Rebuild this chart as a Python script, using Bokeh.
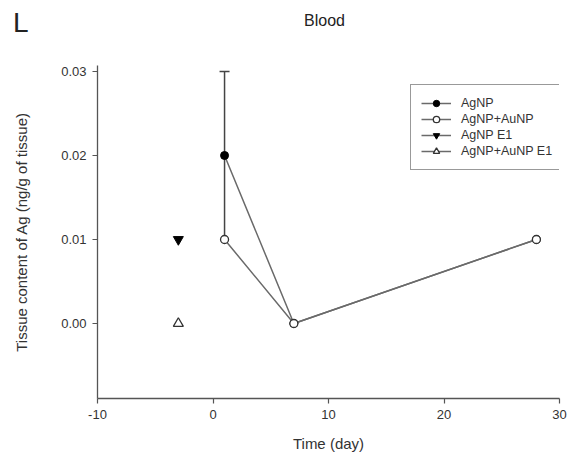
from bokeh.plotting import figure
from bokeh.models import (ColumnDataSource, Whisker, TeeHead, Legend, LegendItem,
                          FixedTicker, NumeralTickFormatter, PrintfTickFormatter, Range1d, Div)
from bokeh.layouts import column
from bokeh.embed import file_html
from bokeh.resources import INLINE

# ---- data ----
agnp_day = [1, 7, 28]
agnp_val = [0.02, 0.0, 0.01]
agnp_err_day = [1]
agnp_err_lo = [0.01]
agnp_err_hi = [0.03]

agau_day = [1, 7, 28]
agau_val = [0.01, 0.0, 0.01]

agnp_e1_day = [-3]
agnp_e1_val = [0.01]

agau_e1_day = [-3]
agau_e1_val = [0.0]

x_ticks = [-10, 0, 10, 20, 30]
y_ticks = [0.0, 0.01, 0.02, 0.03]

panel_letter = "L"
title_text = "Blood"

FONT = "Liberation Sans"
TXT = "#333333"
AX = "#555555"
LN = "#6a6a6a"

header = Div(
    text=(f'<div style="position:relative;width:572px;height:40px;'
          f'font-family:\'{FONT}\';color:#222222;line-height:1;">'
          f'<span style="position:absolute;left:13px;top:9px;font-size:28px;">{panel_letter}</span>'
          f'<span style="position:absolute;left:304px;top:13px;font-size:16px;">{title_text}</span>'
          f'</div>'),
    width=572, height=40, margin=0)

p = figure(width=572, height=416, output_backend="svg", toolbar_location=None,
           x_range=Range1d(-10, 30), y_range=Range1d(-0.00893, 0.03071),
           min_border_left=97, min_border_right=13, min_border_top=25, min_border_bottom=58,
           margin=0)
p.outline_line_color = None
p.xgrid.visible = False
p.ygrid.visible = False
p.background_fill_color = "white"

for ax in (p.xaxis[0], p.yaxis[0]):
    ax.axis_line_color = AX
    ax.axis_line_width = 1.3
    ax.major_tick_line_color = AX
    ax.major_tick_line_width = 1.2
    ax.major_tick_in = 0
    ax.major_tick_out = 5
    ax.minor_tick_line_color = None
    ax.major_label_text_font = FONT
    ax.major_label_text_font_size = "13px"
    ax.major_label_text_color = TXT
    ax.major_label_standoff = 6
    ax.axis_label_text_font = FONT
    ax.axis_label_text_font_size = "15px"
    ax.axis_label_text_font_style = "normal"
    ax.axis_label_text_color = TXT

p.xaxis.ticker = FixedTicker(ticks=x_ticks)
p.yaxis.ticker = FixedTicker(ticks=y_ticks)
p.xaxis.formatter = PrintfTickFormatter(format="%d")
p.yaxis.formatter = NumeralTickFormatter(format="0.00")
p.xaxis.axis_label = "Time (day)"
p.yaxis.axis_label = "Tissue content of Ag (ng/g of tissue)"
p.xaxis.axis_label_standoff = 13
p.yaxis.axis_label_standoff = 28

# error bar
err_src = ColumnDataSource(dict(base=agnp_err_day, lower=agnp_err_lo, upper=agnp_err_hi))
wh = Whisker(source=err_src, base="base", lower="lower", upper="upper",
             line_color="#444444", line_width=1.5, level="underlay",
             upper_head=TeeHead(size=10, line_color="#444444", line_width=1.5),
             lower_head=None)
p.add_layout(wh)

# series
l1 = p.line(agnp_day, agnp_val, line_color=LN, line_width=1.5)
s1 = p.scatter(agnp_day, agnp_val, marker="circle", size=8, fill_color="black",
               line_color="black")
l2 = p.line(agau_day, agau_val, line_color=LN, line_width=1.5)
s2 = p.scatter(agau_day, agau_val, marker="circle", size=8, fill_color="white",
               line_color="#333333", line_width=1.3)
l3 = p.line(agnp_e1_day, agnp_e1_val, line_color=LN, line_width=1.5)
s3 = p.scatter(agnp_e1_day, agnp_e1_val, marker="inverted_triangle", size=10,
               fill_color="black", line_color="black")
l4 = p.line(agau_e1_day, agau_e1_val, line_color=LN, line_width=1.5)
s4 = p.scatter(agau_e1_day, agau_e1_val, marker="triangle", size=10,
               fill_color="white", line_color="#333333", line_width=1.3)

legend = Legend(items=[
    LegendItem(label="AgNP", renderers=[l1, s1]),
    LegendItem(label="AgNP+AuNP", renderers=[l2, s2]),
    LegendItem(label="AgNP E1", renderers=[l3, s3]),
    LegendItem(label="AgNP+AuNP E1", renderers=[l4, s4]),
], location=(313, 228))
legend.glyph_width = 30
legend.glyph_height = 16
legend.label_height = 16
legend.spacing = 0
legend.padding = 10
legend.margin = 0
legend.label_standoff = 10
legend.label_text_font = FONT
legend.label_text_font_size = "12.5px"
legend.label_text_color = TXT
legend.border_line_color = "#333333"
legend.border_line_width = 1.2
legend.background_fill_alpha = 1.0
p.add_layout(legend)

layout = column(header, p, spacing=0, margin=0)
open("out.html", "w").write(file_html(layout, INLINE))
